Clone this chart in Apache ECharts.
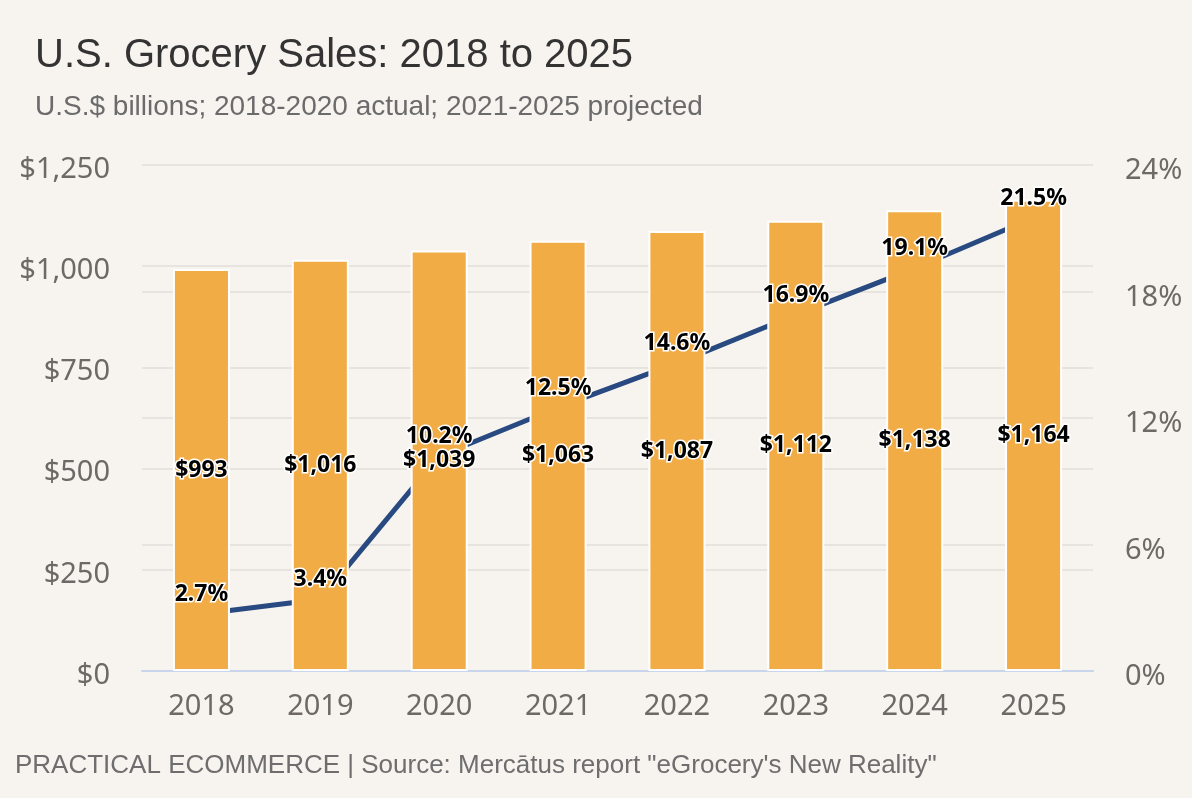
<!DOCTYPE html>
<html>
<head>
<meta charset="utf-8">
<script src="https://cdn.jsdelivr.net/npm/echarts@6/dist/echarts.min.js"></script>
<style>
html,body{margin:0;padding:0;background:#f7f3ef;}
#main{width:1192px;height:798px;}
</style>
</head>
<body>
<div id="main"></div>
<script>
var years = ['2018','2019','2020','2021','2022','2023','2024','2025'];
var salesBillions = [993, 1016, 1039, 1063, 1087, 1112, 1138, 1164];
var onlineSharePct = [2.7, 3.4, 10.2, 12.5, 14.6, 16.9, 19.1, 21.5];

var titleText = 'U.S. Grocery Sales: 2018 to 2025';
var subtitleText = 'U.S.$ billions; 2018-2020 actual; 2021-2025 projected';
var footerText = 'PRACTICAL ECOMMERCE | Source: Merc\u0101tus report "eGrocery\'s New Reality"';

var chart = echarts.init(document.getElementById('main'), null, {renderer:'canvas'});
var axisFont = {color:'#6e6966', fontSize:29, fontFamily:'"Noto Sans", sans-serif'};
var labelFont = {color:'#000', fontSize:23, fontWeight:'bold', fontFamily:'"Noto Sans", sans-serif',
  textBorderColor:'#fff', textBorderWidth:3};
var shiftRich = {a:{color:'#6e6966', fontSize:29, fontFamily:'"Noto Sans", sans-serif', padding:[9,0,0,0]}};

chart.setOption({
  backgroundColor:'#f7f3ef',
  animation:false,
  title:[
    {text:titleText, left:30, top:31, textStyle:{fontFamily:'"Liberation Sans", Arial, sans-serif', fontSize:40, fontWeight:'normal', color:'#333'}},
    {text:subtitleText, left:30, top:88, textStyle:{fontFamily:'"Liberation Sans", Arial, sans-serif', fontSize:28, fontWeight:'normal', color:'#6b6b6b'}},
    {text:footerText, left:10, top:748, textStyle:{fontFamily:'"Liberation Sans", Arial, sans-serif', fontSize:26, fontWeight:'normal', color:'#6e6e6e'}}
  ],
  grid:{left:142, right:99, top:165, bottom:127},
  xAxis:{
    type:'category', data:years,
    axisLine:{lineStyle:{color:'#c9d5ea', width:2}},
    axisTick:{show:false},
    axisLabel:Object.assign({margin:21}, axisFont)
  },
  yAxis:[
    {type:'value', min:0, max:1250, interval:250,
     axisLabel:Object.assign({margin:32, rich:shiftRich, formatter:function(v){return '{a|$'+v.toLocaleString('en-US')+'}';}}, axisFont),
     splitLine:{lineStyle:{color:'#e7e3df', width:2}},
     axisLine:{show:false}, axisTick:{show:false}},
    {type:'value', min:0, max:24, interval:6,
     axisLabel:Object.assign({margin:32, rich:{a:{color:'#6e6966', fontSize:29, fontFamily:'"Noto Sans", sans-serif', padding:[12,0,0,0]}}, formatter:function(v){return '{a|'+v+'%}';}}, axisFont),
     splitLine:{lineStyle:{color:'#e7e3df', width:2}},
     axisLine:{show:false}, axisTick:{show:false}}
  ],
  series:[
    {type:'line', yAxisIndex:1, data:onlineSharePct, z:1, symbol:'none',
     lineStyle:{color:'#284a80', width:5}, silent:true},
    {type:'bar', data:salesBillions, z:2, barWidth:'48%',
     itemStyle:{color:'#f2ac45', borderColor:'#ffffff', borderWidth:2},
     label:Object.assign({show:true, position:'inside', formatter:function(p){return '$'+p.value.toLocaleString('en-US');}}, labelFont)},
    {type:'line', yAxisIndex:1, data:onlineSharePct, z:5, symbol:'circle', symbolSize:2, showSymbol:true,
     itemStyle:{color:'rgba(0,0,0,0)', borderWidth:0}, lineStyle:{color:'rgba(0,0,0,0)', width:0}, silent:true,
     label:Object.assign({show:true, position:'top', distance:7, opacity:1, formatter:'{c}%'}, labelFont)}
  ]
});
</script>
</body>
</html>
